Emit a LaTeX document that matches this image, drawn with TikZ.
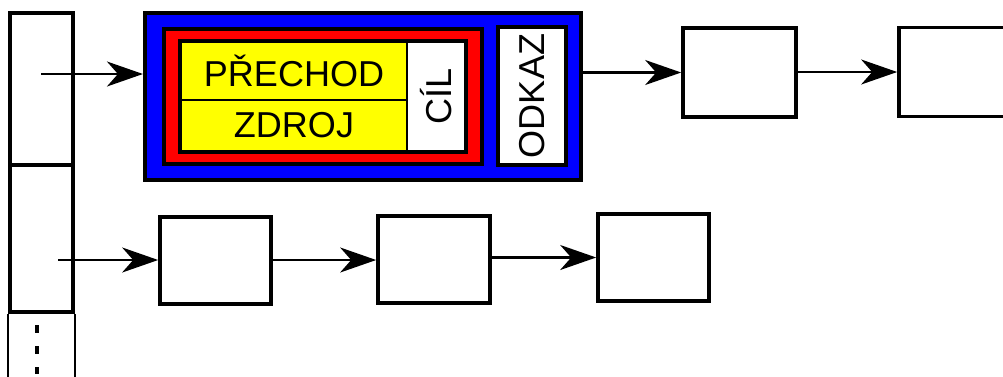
\documentclass[tikz,border=0pt]{standalone}
\usepackage{fontspec}
\setmainfont{Liberation Sans}
\usetikzlibrary{arrows.meta}
\definecolor{modra}{RGB}{0,0,255}
\definecolor{cervena}{RGB}{255,0,0}
\definecolor{zluta}{RGB}{255,255,0}
\tikzset{
  ramec/.style={draw, line width=2.1pt, inner sep=0pt, fill=white},
  sipka/.style={line width=1.2pt, -{Stealth[length=0.72cm, width=0.5cm, inset=0.22cm]}},
  popis/.style={font=\fontsize{20.5pt}{24pt}\selectfont},
}
\begin{document}
\begin{tikzpicture}[x=0.02cm, y=-0.02cm]
  \useasboundingbox (0,0) rectangle (1003,376);
  \clip (0,0) rectangle (1003,376);
  % Tabulka vlevo
  \node[ramec, line width=2.3pt, minimum width=1.26cm, minimum height=3.04cm] (radek1) at (41.5,89) {};
  \node[ramec, line width=2.3pt, minimum width=1.26cm, minimum height=2.94cm] (radek2) at (41.5,238.5) {};
  \draw[line width=1.6pt] (radek2.south west) -- ++(0,80);
  \draw[line width=1.6pt] (radek2.south east) -- ++(0,80);
  \draw[line width=2.6pt, dash pattern=on 0.15cm off 0.27cm] (37,325) -- (37,390);
  % Modra struktura
  \node[draw, line width=2.4pt, fill=modra, minimum width=8.72cm, minimum height=3.34cm] (modry) at (363,96.5) {};
  \node[draw, line width=2pt, fill=cervena, minimum width=6.36cm, minimum height=2.7cm] (cerveny) at (323,96.5) {};
  \node[draw, line width=0.9pt, fill=zluta, inner sep=0pt, minimum width=4.52cm, minimum height=1.16cm, popis] (prechod) at (294,71) {PŘECHOD};
  \node[draw, line width=0.9pt, fill=zluta, inner sep=0pt, minimum width=4.52cm, minimum height=1.02cm, popis] (zdroj) at (294,125.5) {ZDROJ};
  \node[draw, line width=0.9pt, fill=white, inner sep=0pt, minimum width=1.16cm, minimum height=2.18cm, popis] (cil) at (436,96.5) {\rotatebox{90}{CÍL}};
  \draw[line width=2pt] (prechod.north west) rectangle (cil.south east);
  \node[ramec, minimum width=1.36cm, minimum height=2.76cm, popis] (odkaz) at (532,96) {\rotatebox{90}{ODKAZ}};
  % Seznam v prvnim radku
  \node[ramec, minimum width=2.26cm, minimum height=1.78cm] (a) at (739.5,72.5) {};
  \node[ramec, minimum width=2.26cm, minimum height=1.78cm] (b) at (955.5,72) {};
  % Seznam ve druhem radku
  \node[ramec, minimum width=2.22cm, minimum height=1.74cm] (c) at (215.5,260.5) {};
  \node[ramec, minimum width=2.24cm, minimum height=1.74cm] (d) at (434,259.5) {};
  \node[ramec, minimum width=2.22cm, minimum height=1.74cm] (e) at (653.5,257.5) {};
  % Sipky
  \coordinate (start1) at (41,74);
  \coordinate (start2) at (58,260);
  \draw[sipka] (start1) -- (start1 -| modry.west);
  \draw[sipka] (modry.east |- a.west) -- (a.west);
  \draw[sipka] (a.east |- b.west) -- (b.west);
  \draw[sipka] (start2) -- (start2 -| c.west);
  \draw[sipka] (c.east |- start2) -- (start2 -| d.west);
  \draw[sipka] (d.east |- e.west) -- (e.west);
\end{tikzpicture}
\end{document}
